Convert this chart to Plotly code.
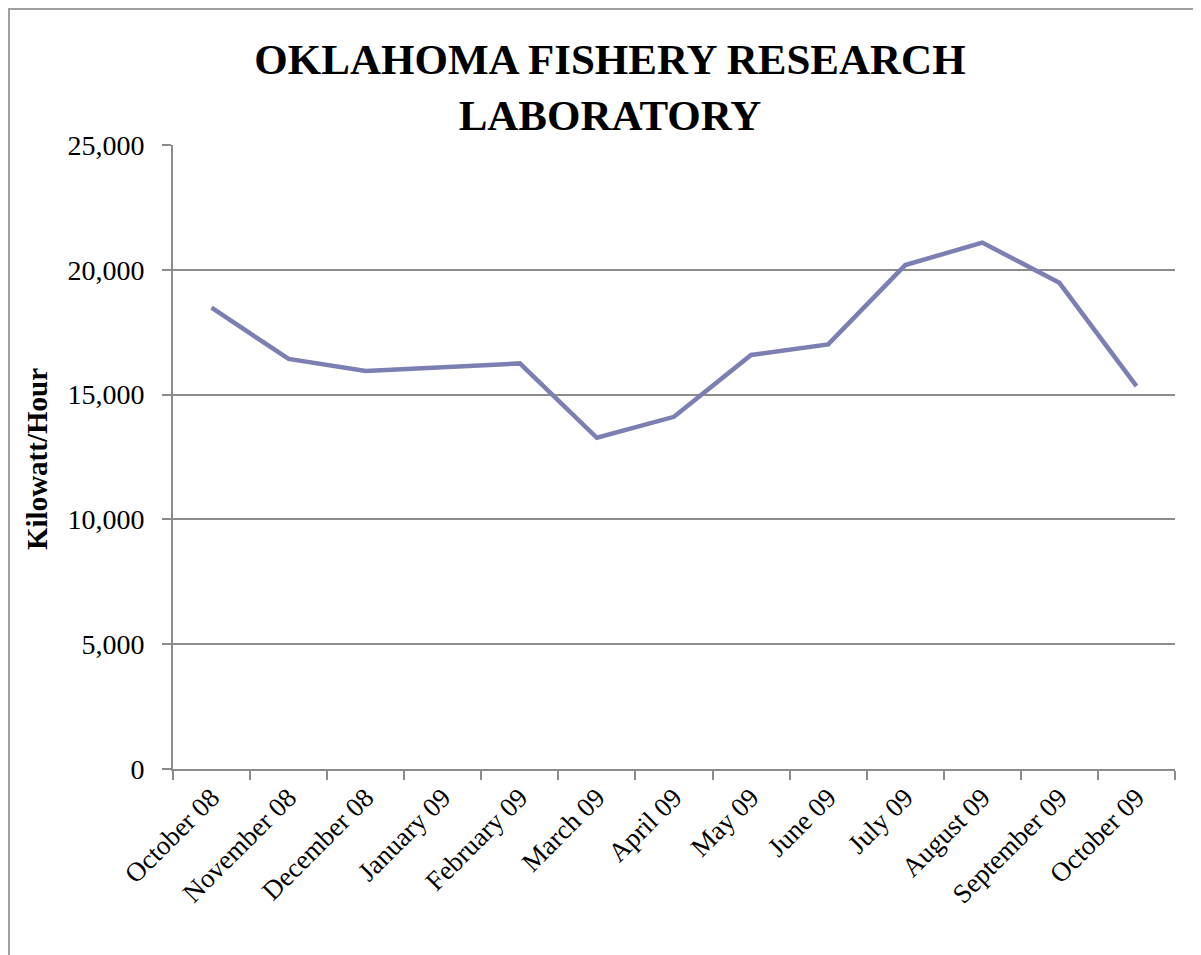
import plotly.graph_objects as go

months = ["October 08", "November 08", "December 08", "January 09", "February 09",
          "March 09", "April 09", "May 09", "June 09", "July 09", "August 09",
          "September 09", "October 09"]
kwh = [18480, 16430, 15950, 16110, 16250, 13270, 14110, 16590, 17010, 20190,
       21090, 19480, 15340]
y_ticks = [0, 5000, 10000, 15000, 20000, 25000]

grey = "#8c8c8c"
serif = "Liberation Serif"

W, H = 1201, 955
OFF = 8  # page body margin offset
L, T = 173 - OFF, 145 - OFF
R = W - (1175 - OFF)
B = H - (769 - OFF)
pw, ph = W - L - R, H - T - B


def px(xs):
    return (xs - OFF - L) / pw


def py(ys):
    return (H - B - (ys - OFF)) / ph


fig = go.Figure()
fig.add_trace(go.Scatter(
    x=months, y=kwh, mode="lines",
    line=dict(color="#7b7fb1", width=4.5),
    hoverinfo="x+y", showlegend=False,
))

fig.update_layout(
    width=W, height=H,
    margin=dict(l=L, r=R, t=T, b=B, autoexpand=False),
    paper_bgcolor="white", plot_bgcolor="white",
    title=dict(
        text="<b>OKLAHOMA FISHERY RESEARCH<br>LABORATORY</b>",
        x=(610 - OFF) / W, xanchor="center", y=1 - 66 / H, yanchor="middle",
        font=dict(family=serif, size=43, color="black"),
    ),
    xaxis=dict(
        type="category", range=[-0.5, len(months) - 0.5], automargin=False,
        tickson="boundaries", ticks="outside", ticklen=9,
        tickwidth=2, tickcolor=grey, showline=True, linecolor=grey, linewidth=2,
        showgrid=False, tickangle=-45,
        tickfont=dict(family=serif, size=27, color="black"),
    ),
    yaxis=dict(
        range=[0, 25000], tickvals=y_ticks, tickformat=",d", automargin=False,
        ticks="outside", ticklen=9, tickwidth=2, tickcolor=grey,
        ticklabelstandoff=12,
        showline=True, linecolor=grey, linewidth=2,
        showgrid=True, gridcolor=grey, gridwidth=2, zeroline=False,
        tickfont=dict(family=serif, size=28, color="black"),
    ),
    annotations=[dict(
        text="<b>Kilowatt/Hour</b>", textangle=-90, showarrow=False,
        xref="paper", yref="paper", x=px(37), y=py(459),
        xanchor="center", yanchor="middle",
        font=dict(family=serif, size=29, color="black"),
    )],
    shapes=[dict(type="rect", xref="paper", yref="paper",
                 x0=px(9), x1=px(W + 40),
                 y0=py(H + 40), y1=py(9),
                 line=dict(color="#a0a0a0", width=2), layer="below")],
)

fig.write_html("out.html")
